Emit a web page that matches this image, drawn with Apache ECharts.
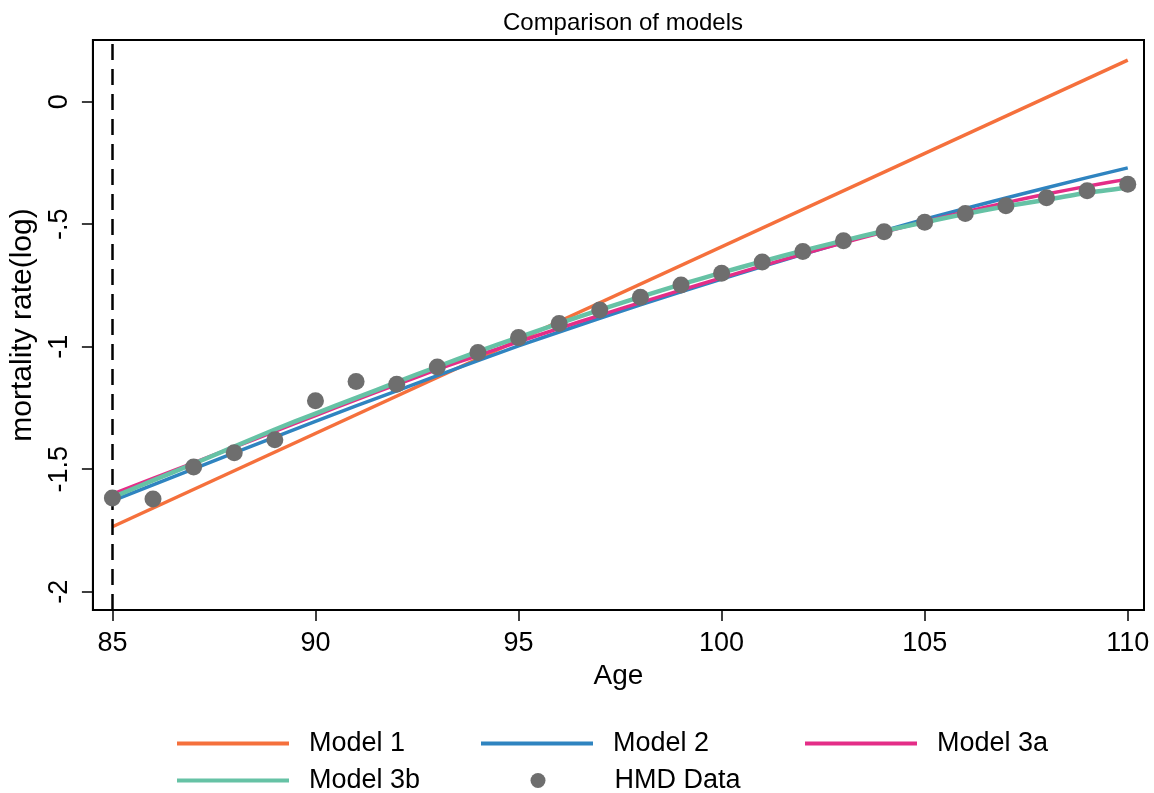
<!DOCTYPE html>
<html>
<head>
<meta charset="utf-8">
<script src="https://cdn.jsdelivr.net/npm/echarts@6/dist/echarts.min.js"></script>
<style>html,body{margin:0;padding:0;background:#fff;}#c{width:1154px;height:793px;}</style>
</head>
<body>
<div id="c"></div>
<script>
const ages = [85,86,87,88,89,90,91,92,93,94,95,96,97,98,99,100,101,102,103,104,105,106,107,108,109,110];
const hmdData = [-1.618,-1.622,-1.491,-1.433,-1.380,-1.221,-1.142,-1.153,-1.083,-1.024,-0.963,-0.905,-0.850,-0.798,-0.748,-0.700,-0.654,-0.611,-0.568,-0.531,-0.492,-0.456,-0.425,-0.392,-0.363,-0.337];
const model1Ages = [85,110];
const model1 = [-1.735,0.170];
const model2 = [-1.630,-1.564,-1.499,-1.434,-1.369,-1.305,-1.242,-1.180,-1.118,-1.057,-0.997,-0.940,-0.884,-0.829,-0.776,-0.724,-0.673,-0.623,-0.574,-0.526,-0.480,-0.436,-0.393,-0.351,-0.310,-0.270];
const model3a = [-1.602,-1.538,-1.474,-1.410,-1.346,-1.281,-1.217,-1.155,-1.093,-1.036,-0.980,-0.925,-0.872,-0.820,-0.769,-0.719,-0.670,-0.622,-0.576,-0.532,-0.490,-0.450,-0.412,-0.377,-0.345,-0.316];
const model3b = [-1.615,-1.546,-1.478,-1.408,-1.338,-1.273,-1.209,-1.145,-1.082,-1.020,-0.962,-0.905,-0.850,-0.797,-0.746,-0.698,-0.652,-0.608,-0.567,-0.528,-0.492,-0.458,-0.427,-0.400,-0.372,-0.350];
const xTicks = [85,90,95,100,105,110];
const yTicks = [-2,-1.5,-1,-0.5,0];
const yTickLabels = ['-2','-1.5','-1','-.5','0'];
const seriesNames = ['Model 1','Model 2','Model 3a','Model 3b','HMD Data'];

const zip = (xs, ys) => xs.map((x, i) => [x, ys[i]]);
const FONT = 'Liberation Sans, Arial, sans-serif';
const colors = ['#F5703C','#2F84C0','#E42D87','#66C2A5','#6E6E6E'];

function legendFor(i, left, top, isDot) {
  return {
    data: [seriesNames[i]], left: left, top: top, orient: 'horizontal', padding: 0,
    itemWidth: isDot ? 15 : 112, itemHeight: isDot ? 15 : 4, icon: isDot ? 'circle' : 'rect',
    selectedMode: false,
    textStyle: { fontFamily: FONT, fontSize: 27, color: '#000', padding: [0,0,0,isDot ? 64 : 15] }
  };
}

const chart = echarts.init(document.getElementById('c'), null, { renderer: 'canvas' });
chart.setOption({
  animation: false,
  backgroundColor: '#fff',
  title: {
    text: 'Comparison of models', left: 618, top: 6, textAlign: 'center',
    textStyle: { fontFamily: FONT, fontSize: 24, fontWeight: 'normal', color: '#000' }
  },
  legend: [
    legendFor(0, 177, 730, false),
    legendFor(1, 481, 730, false),
    legendFor(2, 805, 730, false),
    legendFor(3, 177, 767, false),
    legendFor(4, 530.5, 767, true)
  ],
  grid: { left: 92, right: 10, top: 40, bottom: 183, show: true, borderColor: '#000', borderWidth: 2, backgroundColor: 'transparent' },
  xAxis: {
    type: 'value', min: 84.52, max: 110.40,
    name: 'Age', nameLocation: 'middle', nameGap: 50,
    nameTextStyle: { fontFamily: FONT, fontSize: 28, color: '#000' },
    axisLine: { show: true, onZero: false, lineStyle: { color: '#000', width: 2 } },
    axisTick: { show: true, length: 11, customValues: xTicks, lineStyle: { color: '#000', width: 1.5 } },
    axisLabel: { customValues: xTicks, margin: 20, fontFamily: FONT, fontSize: 27, color: '#000' },
    splitLine: { show: false }
  },
  yAxis: {
    type: 'value', min: -2.075, max: 0.252,
    name: 'mortality rate(log)', nameLocation: 'middle', nameGap: 50, nameRotate: 90,
    nameTextStyle: { fontFamily: FONT, fontSize: 30, color: '#000' },
    axisLine: { show: true, onZero: false, lineStyle: { color: '#000', width: 2 } },
    axisTick: { show: true, length: 11, customValues: yTicks, lineStyle: { color: '#000', width: 1.5 } },
    axisLabel: {
      customValues: yTicks, rotate: 90, margin: 20, fontFamily: FONT, fontSize: 27, color: '#000',
      formatter: v => { const k = yTicks.findIndex(t => Math.abs(t - v) < 1e-9); return k >= 0 ? yTickLabels[k] : ''; }
    },
    splitLine: { show: false }
  },
  series: [
    { name: seriesNames[0], type: 'line', data: zip(model1Ages, model1), showSymbol: false, symbol: 'none',
      lineStyle: { color: colors[0], width: 3.5 }, itemStyle: { color: colors[0] }, z: 2,
      markLine: { silent: true, symbol: 'none', label: { show: false },
        lineStyle: { color: '#000', width: 2.5, type: [16, 9] }, data: [{ xAxis: 85 }] } },
    { name: seriesNames[1], type: 'line', data: zip(ages, model2), showSymbol: false, symbol: 'none',
      lineStyle: { color: colors[1], width: 3.5 }, itemStyle: { color: colors[1] }, z: 3 },
    { name: seriesNames[2], type: 'line', data: zip(ages, model3a), showSymbol: false, symbol: 'none', smooth: 0.2,
      lineStyle: { color: colors[2], width: 3.5 }, itemStyle: { color: colors[2] }, z: 4 },
    { name: seriesNames[3], type: 'line', data: zip(ages, model3b), showSymbol: false, symbol: 'none', smooth: 0.2,
      lineStyle: { color: colors[3], width: 4.5 }, itemStyle: { color: colors[3] }, z: 5 },
    { name: seriesNames[4], type: 'scatter', data: zip(ages, hmdData), symbol: 'circle', symbolSize: 17,
      itemStyle: { color: colors[4], opacity: 1 }, z: 6 }
  ]
});
</script>
</body>
</html>
